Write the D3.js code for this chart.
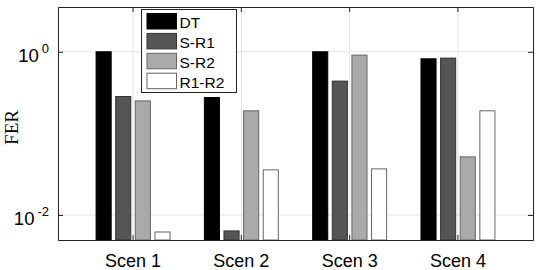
<!DOCTYPE html>
<html>
<head>
<meta charset="utf-8">
<script src="https://cdn.jsdelivr.net/npm/d3@7"></script>
<style>
  body { margin: 0; background: #fff; }
  text { font-family: "Liberation Sans", Arial, sans-serif; fill: #000; }
</style>
</head>
<body>
<div id="chart"></div>
<script>
// data
var scenarios = ["Scen 1", "Scen 2", "Scen 3", "Scen 4"];
var series = ["DT", "S-R1", "S-R2", "R1-R2"];
var DT   = [1.0,    0.275,   1.0,    0.82];
var SR1  = [0.283,  0.00637, 0.437,  0.837];
var SR2  = [0.25,   0.189,   0.91,   0.0515];
var R1R2 = [0.00618, 0.0357, 0.0367, 0.189];
var yTicks = [1e-2, 1e0];

var values = [DT, SR1, SR2, R1R2];
var fills = ["#000000", "#555555", "#aaaaaa", "#ffffff"];
var strokes = ["#000000", "#333333", "#666666", "#666666"];

var W = 540, H = 270;
var margin = {top: 7, right: 7, bottom: 30, left: 58};
var width = W - margin.left - margin.right;
var height = H - margin.top - margin.bottom;

var svg = d3.select("#chart").append("svg")
    .attr("width", W)
    .attr("height", H)
  .append("g")
    .attr("transform", "translate(" + margin.left + "," + margin.top + ")");

// 外側のスケール(グループ)と内側のスケール(系列)
var x0 = d3.scaleBand()
    .domain(scenarios)
    .range([0, width])
    .paddingInner(0.308)
    .paddingOuter(0.347);

var x1 = d3.scaleBand()
    .domain(series)
    .range([0, x0.bandwidth()])
    .paddingInner(0.18)
    .paddingOuter(0);

var y = d3.scaleLog()
    .domain([0.00493, 3.54])
    .range([height, 0]);

// grid
svg.append("g").selectAll("line.hg")
    .data(yTicks)
  .enter().append("line")
    .attr("x1", 0).attr("x2", width)
    .attr("y1", function(d) { return y(d); })
    .attr("y2", function(d) { return y(d); })
    .attr("stroke", "#e3e3e3");

svg.append("g").selectAll("line.vg")
    .data(scenarios)
  .enter().append("line")
    .attr("x1", function(d) { return x0(d) + x0.bandwidth() / 2; })
    .attr("x2", function(d) { return x0(d) + x0.bandwidth() / 2; })
    .attr("y1", 0).attr("y2", height)
    .attr("stroke", "#e3e3e3");

// bars
var rows = [];
scenarios.forEach(function(s, i) {
  series.forEach(function(k, j) {
    rows.push({scen: s, name: k, idx: j, value: values[j][i]});
  });
});

svg.selectAll(".bar")
    .data(rows)
  .enter().append("rect")
    .attr("class", "bar")
    .attr("x", function(d) { return x0(d.scen) + x1(d.name) + 0.5; })
    .attr("width", x1.bandwidth() - 1)
    .attr("y", function(d) { return y(d.value); })
    .attr("height", function(d) { return height - y(d.value); })
    .attr("fill", function(d) { return fills[d.idx]; })
    .attr("stroke", function(d) { return strokes[d.idx]; })
    .attr("stroke-width", 1);

// axes box with inward ticks
var axisColor = "#262626";

var axBottom = svg.append("g")
    .attr("transform", "translate(0," + height + ")")
    .call(d3.axisBottom(x0).tickSizeInner(-5).tickSizeOuter(0).tickPadding(14));
var axTop = svg.append("g")
    .call(d3.axisTop(x0).tickSizeInner(-5).tickSizeOuter(0).tickFormat(""));
var axLeft = svg.append("g")
    .call(d3.axisLeft(y).tickValues(yTicks).tickSizeInner(-5).tickSizeOuter(0).tickFormat(""));
var axRight = svg.append("g")
    .attr("transform", "translate(" + width + ",0)")
    .call(d3.axisRight(y).tickValues(yTicks).tickSizeInner(-5).tickSizeOuter(0).tickFormat(""));

[axBottom, axTop, axLeft, axRight].forEach(function(g) {
  g.selectAll("path.domain").attr("stroke", axisColor);
  g.selectAll(".tick line").attr("stroke", axisColor);
});

axBottom.attr("font-size", null).attr("font-family", null);
axBottom.selectAll("text")
    .attr("font-size", "18px")
    .attr("fill", "#000");

// y tick labels 10^n
var exps = yTicks.map(function(d) { return Math.round(Math.log10(d)); });
var ylab = svg.append("g").selectAll("text.ylab")
    .data(yTicks)
  .enter().append("text")
    .attr("text-anchor", "end")
    .attr("x", -9)
    .attr("y", function(d) { return y(d) + 10; })
    .attr("font-size", "18.5px");
ylab.append("tspan").text("10");
ylab.append("tspan")
    .attr("dx", 3)
    .attr("dy", -9)
    .attr("font-size", "13px")
    .text(function(d, i) { return exps[i]; });

// y label
svg.append("text")
    .attr("transform", "translate(" + (-40) + "," + (height / 2 + 4) + ") rotate(-90)")
    .attr("text-anchor", "middle")
    .attr("font-size", "19px")
    .style("font-family", "'Liberation Serif', 'Times New Roman', serif")
    .text("FER");

// legend
var lg = svg.append("g")
    .attr("transform", "translate(" + (141 - margin.left) + "," + (9 - margin.top) + ")");
lg.append("rect")
    .attr("x", 0.5).attr("y", 0.5)
    .attr("width", 95).attr("height", 83)
    .attr("fill", "#fff")
    .attr("stroke", axisColor);

var item = lg.selectAll(".item")
    .data(series)
  .enter().append("g")
    .attr("transform", function(d, i) { return "translate(0," + (4.5 + i * 19.9) + ")"; });
item.append("rect")
    .attr("x", 6).attr("width", 29.5)
    .attr("y", 0).attr("height", 15.5)
    .attr("fill", function(d, i) { return fills[i]; })
    .attr("stroke", function(d, i) { return strokes[i]; });
item.append("text")
    .attr("x", 38.5)
    .attr("y", 14.5)
    .attr("font-size", "15.5px")
    .text(function(d) { return d; });
</script>
</body>
</html>
